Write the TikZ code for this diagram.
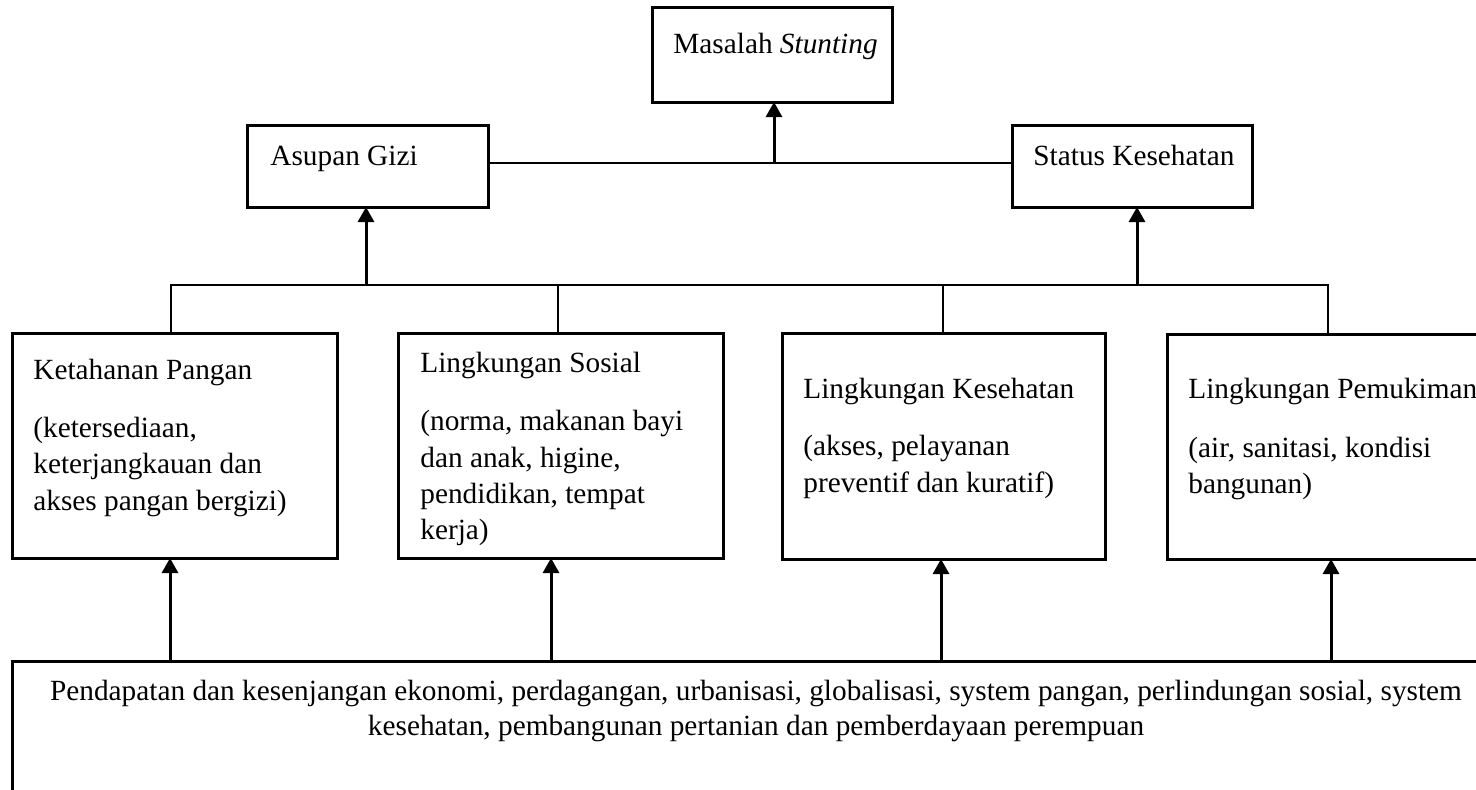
\documentclass[tikz,border=0pt]{standalone}
\usepackage{fontspec}
\setmainfont{Liberation Serif}
\usetikzlibrary{arrows.meta,calc}
\begin{document}
\begin{tikzpicture}[x=0.5pt,y=-0.5pt,
  box/.style={draw=black,line width=1.5pt,rectangle,inner sep=0pt,outer sep=0pt},
  txt/.style={inner sep=0pt,anchor=base west,font=\fontsize{14.65}{18}\selectfont},
  ctxt/.style={inner sep=0pt,anchor=base,font=\fontsize{14.65}{18}\selectfont},
  arr/.style={line width=1.5pt,-{Triangle[length=7.5pt,width=8pt]}},
  thinline/.style={line width=1pt}]
\useasboundingbox (0,0) rectangle (1476,789);
\clip (0,0) rectangle (1476,789);
% boxes
\node[box,minimum width=120pt,minimum height=47.5pt] (ms) at (772,54.5) {};
\node[box,minimum width=120.5pt,minimum height=41pt] (ag) at (367.5,166) {};
\node[box,minimum width=120pt,minimum height=41pt] (sk) at (1132,166) {};
\node[box,minimum width=162.5pt,minimum height=112.5pt] (kp) at (174.5,445.5) {};
\node[box,minimum width=162.5pt,minimum height=112.5pt] (ls) at (560.5,445.5) {};
\node[box,minimum width=161.5pt,minimum height=113pt] (lk) at (943.5,446) {};
\node[box,minimum width=162.5pt,minimum height=112.5pt] (lp) at (1329.5,446.5) {};
\node[box,minimum width=744pt,minimum height=79.5pt] (bt) at (756,740.5) {};
% texts
\node[txt] (tms) at (673,53) {Masalah \textit{Stunting}};
\node[txt] (tag) at (270,165) {Asupan Gizi};
\node[txt] (tsk) at (1033,165) {Status Kesehatan};
\node[txt] (kp1) at (33,379) {Ketahanan Pangan};
\node[txt] (kp2) at (33,437) {(ketersediaan,};
\node[txt] (kp3) at (33,473) {keterjangkauan dan};
\node[txt] (kp4) at (33,510) {akses pangan bergizi)};
\node[txt] (ls1) at (420,372) {Lingkungan Sosial};
\node[txt] (ls2) at (420,430) {(norma, makanan bayi};
\node[txt] (ls3) at (420,467) {dan anak, higine,};
\node[txt] (ls4) at (420,503) {pendidikan, tempat};
\node[txt] (ls5) at (420,539) {kerja)};
\node[txt] (lk1) at (803,398) {Lingkungan Kesehatan};
\node[txt] (lk2) at (803,455) {(akses, pelayanan};
\node[txt] (lk3) at (803,492) {preventif dan kuratif)};
\node[txt] (lp1) at (1188,398) {Lingkungan Pemukiman};
\node[txt] (lp2) at (1188,457) {(air, sanitasi, kondisi};
\node[txt] (lp3) at (1188,493) {bangunan)};
\node[ctxt] (bt1) at (756,700) {Pendapatan dan kesenjangan ekonomi, perdagangan, urbanisasi, globalisasi, system pangan, perlindungan sosial, system};
\node[ctxt] (bt2) at (756,735) {kesehatan, pembangunan pertanian dan pemberdayaan perempuan};
% connectors
\coordinate (bus1) at (774,163);
\coordinate (bus2) at (774,285);
\draw[thinline] (ag.east |- bus1) -- (sk.west |- bus1);
\draw[arr] ([xshift=1pt]ms.south |- bus1) -- ([xshift=1pt]ms.south);
\draw[thinline] ([xshift=-1.75pt]kp.north) -- ([xshift=-1.75pt]kp.north |- bus2) -- ([xshift=-0.75pt]lp.north |- bus2) -- ([xshift=-0.75pt]lp.north);
\draw[thinline] ([xshift=-1.25pt]ls.north) -- ([xshift=-1.25pt]ls.north |- bus2);
\draw[thinline] ([xshift=-0.25pt]lk.north) -- ([xshift=-0.25pt]lk.north |- bus2);
\draw[arr] ([xshift=-0.75pt]ag.south |- bus2) -- ([xshift=-0.75pt]ag.south);
\draw[arr] ([xshift=2.5pt]sk.south |- bus2) -- ([xshift=2.5pt]sk.south);
\draw[arr] ([xshift=-2.25pt]kp.south |- bt.north) -- ([xshift=-2.25pt]kp.south);
\draw[arr] ([xshift=-4.75pt]ls.south |- bt.north) -- ([xshift=-4.75pt]ls.south);
\draw[arr] ([xshift=-1.25pt]lk.south |- bt.north) -- ([xshift=-1.25pt]lk.south);
\draw[arr] ([xshift=0.75pt]lp.south |- bt.north) -- ([xshift=0.75pt]lp.south);
\end{tikzpicture}
\end{document}
